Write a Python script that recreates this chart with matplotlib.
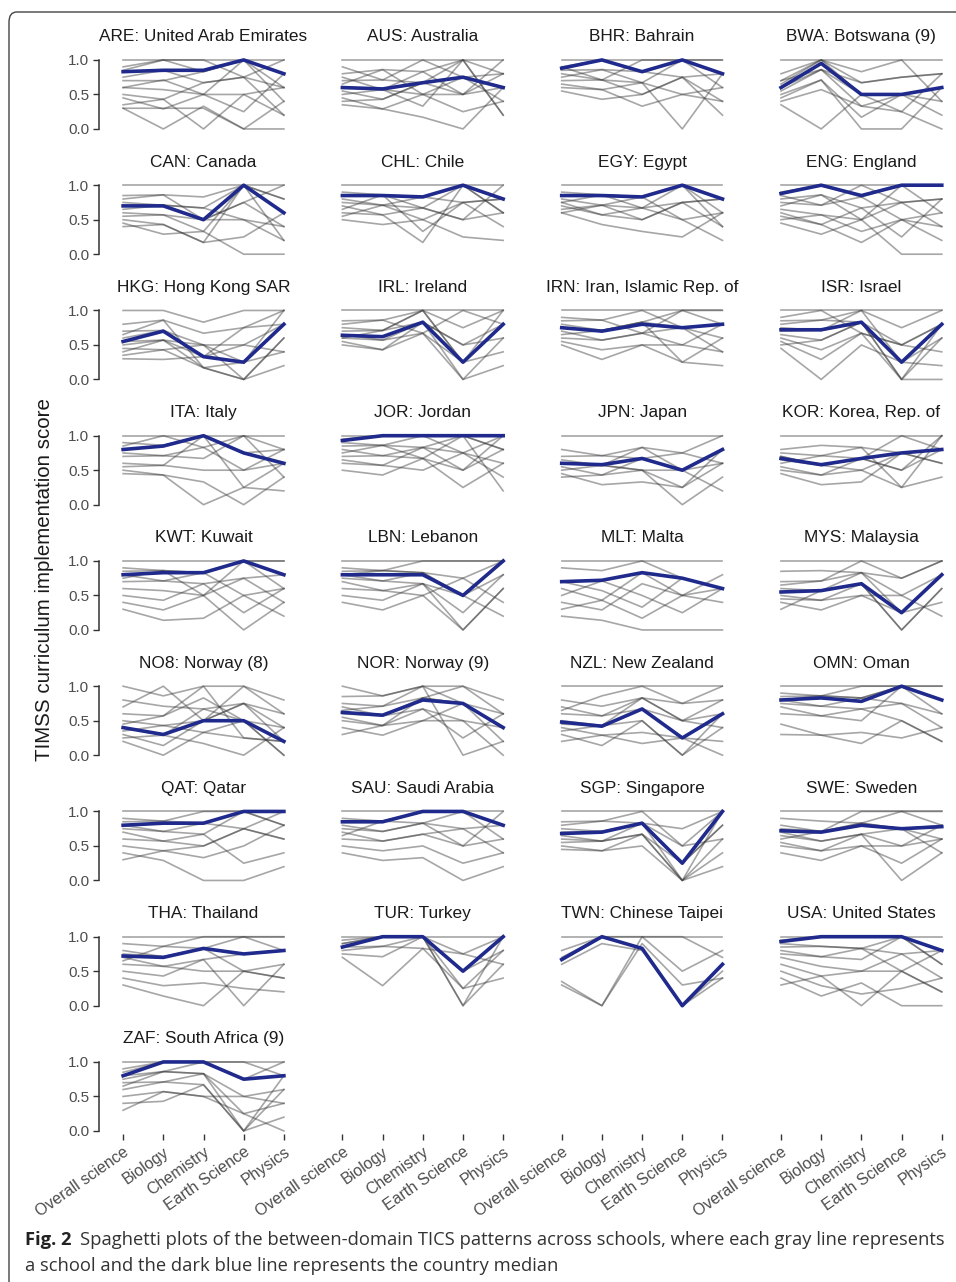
import matplotlib.pyplot as plt
from matplotlib.patches import FancyBboxPatch

# domains on the x axis
domains = ["Overall science", "Biology", "Chemistry", "Earth Science", "Physics"]

titles = [
    "ARE: United Arab Emirates", "AUS: Australia", "BHR: Bahrain", "BWA: Botswana (9)",
    "CAN: Canada", "CHL: Chile", "EGY: Egypt", "ENG: England",
    "HKG: Hong Kong SAR", "IRL: Ireland", "IRN: Iran, Islamic Rep. of", "ISR: Israel",
    "ITA: Italy", "JOR: Jordan", "JPN: Japan", "KOR: Korea, Rep. of",
    "KWT: Kuwait", "LBN: Lebanon", "MLT: Malta", "MYS: Malaysia",
    "NO8: Norway (8)", "NOR: Norway (9)", "NZL: New Zealand", "OMN: Oman",
    "QAT: Qatar", "SAU: Saudi Arabia", "SGP: Singapore", "SWE: Sweden",
    "THA: Thailand", "TUR: Turkey", "TWN: Chinese Taipei", "USA: United States",
    "ZAF: South Africa (9)",
]

# country medians (dark blue lines)
medians = [
    [0.83, 0.85, 0.85, 1.0, 0.8], [0.6, 0.58, 0.67, 0.75, 0.6], [0.88, 1.0, 0.83, 1.0, 0.8], [0.6, 0.95, 0.5, 0.5, 0.6],
    [0.7, 0.7, 0.5, 1.0, 0.6], [0.85, 0.85, 0.83, 1.0, 0.8], [0.85, 0.85, 0.83, 1.0, 0.8], [0.88, 1.0, 0.85, 1.0, 1.0],
    [0.55, 0.7, 0.33, 0.25, 0.8], [0.64, 0.62, 0.83, 0.25, 0.8], [0.75, 0.7, 0.8, 0.75, 0.8], [0.72, 0.72, 0.83, 0.25, 0.8],
    [0.8, 0.85, 1.0, 0.75, 0.6], [0.93, 1.0, 1.0, 1.0, 1.0], [0.6, 0.58, 0.67, 0.5, 0.8], [0.67, 0.58, 0.67, 0.75, 0.8],
    [0.8, 0.83, 0.83, 1.0, 0.8], [0.8, 0.8, 0.8, 0.5, 1.0], [0.7, 0.72, 0.83, 0.75, 0.6], [0.55, 0.57, 0.67, 0.25, 0.8],
    [0.4, 0.3, 0.5, 0.5, 0.2], [0.62, 0.58, 0.8, 0.75, 0.4], [0.48, 0.42, 0.67, 0.25, 0.6], [0.8, 0.83, 0.78, 1.0, 0.8],
    [0.8, 0.83, 0.83, 1.0, 1.0], [0.85, 0.85, 1.0, 1.0, 0.8], [0.68, 0.7, 0.83, 0.25, 1.0], [0.72, 0.7, 0.8, 0.75, 0.78],
    [0.72, 0.7, 0.83, 0.75, 0.8], [0.85, 1.0, 1.0, 0.5, 1.0], [0.67, 1.0, 0.83, 0.0, 0.6], [0.93, 1.0, 1.0, 1.0, 0.8],
    [0.8, 1.0, 1.0, 0.75, 0.8],
]

# school lines per country (gray), one school per ';'
schools = [
    "1 1 1 1 1; .9 1 .83 1 .8; .75 .85 .67 .75 .6; .7 .7 .83 1 .4; .6 .57 .5 .5 .6; .5 .43 .67 .75 .2; .45 .29 .5 .25 .8; .3 0 .33 0 .4; .35 .43 0 .5 .2; .85 1 1 .75 1; .6 .71 .5 1 .6; .3 .3 .3 0 0",
    "1 1 1 1 1; .8 .86 .83 1 .8; .7 .71 .67 .75 .6; .6 .57 .5 .75 .4; .55 .43 .67 .5 .6; .5 .57 .33 1 .2; .45 .29 .5 .25 .4; .35 .29 .17 0 .6; .9 .71 1 .75 .8; .65 .86 .5 .5 .8; .4 .43 .67 1 .2; .75 .57 .83 .5 1",
    "1 1 1 1 1; .9 1 .83 1 .8; .85 .86 .83 .75 .8; .8 .71 .67 1 .6; .7 .71 .5 .75 .4; .65 .57 .33 .5 .6; .6 .57 .67 0 .8; .75 .86 .67 .5 .4; .9 .71 1 1 1; .55 .43 .5 .75 .2",
    "1 1 1 1 1; .8 1 .67 .75 .8; .7 1 .5 .5 .6; .6 .86 .33 .5 .4; .55 .86 .5 .25 .8; .5 .71 0 0 .6; .45 .71 .17 .5 .2; .65 1 .83 1 .4; .4 .57 .33 .25 0; .7 .86 .67 .75 .8; .35 0 .5 .5 .6",
    "1 1 1 1 1; .85 .86 .83 1 .8; .75 .71 .67 1 .6; .7 .71 .5 .75 .4; .6 .57 .33 1 .8; .55 .57 .5 .5 .2; .5 .43 .17 .25 .6; .45 .29 .33 0 0; .8 .86 .5 .75 1; .65 .71 .67 .5 .4; .4 .43 .17 1 .2",
    "1 1 1 1 1; .9 .86 .83 1 .8; .85 .86 .67 1 .6; .8 .71 .83 .75 .8; .75 .71 .5 .75 .4; .7 .57 .67 .5 .6; .6 .57 .17 1 .6; .5 .43 .5 .25 .2; .65 .86 .33 .75 .8; .55 .71 .67 .5 1",
    "1 1 1 1 1; .9 .86 .83 1 .8; .85 .86 .83 1 .6; .8 .71 .67 .75 .8; .75 .86 .67 .5 .6; .7 .57 .5 .75 .4; .65 .71 .83 .5 .2; .6 .43 .33 .25 .6; .75 .57 .67 1 .4; .6 .71 .5 .75 .8",
    "1 1 1 1 1; .9 1 .83 1 1; .8 .86 .67 .75 .8; .75 .71 .83 .5 .6; .65 .57 .5 .75 .4; .55 .43 .67 .25 .8; .5 .57 .33 .5 .2; .45 .29 .5 0 0; .7 .86 .5 1 .6; .85 .71 1 .75 .8; .6 .43 .17 .5 .4",
    "1 1 .83 1 1; .8 .86 .67 .75 1; .7 .71 .5 .5 .8; .6 .71 .33 .25 .8; .55 .57 .17 0 .6; .5 .57 .33 .5 .4; .45 .43 .5 .25 1; .35 .43 .17 0 .6; .3 .29 .33 .75 .8; .65 .86 .17 .25 .4; .4 .57 .5 0 .2",
    "1 1 1 1 1; .85 .86 1 .75 1; .75 .71 .83 .5 .8; .7 .71 1 .25 .8; .65 .57 .83 0 .6; .6 .57 .67 .25 .4; .55 .43 .83 .5 .6; .5 .43 .67 0 .2; .8 .86 .67 1 .8; .6 .71 1 .25 1",
    "1 1 1 1 1; .9 .86 1 .75 .8; .8 .71 .83 1 .8; .75 .71 .83 .75 .6; .7 .57 .67 .5 .8; .6 .57 .67 .75 .4; .55 .43 .5 .25 .6; .5 .29 .5 .5 .4; .65 .71 .83 .25 .2; .85 .86 .67 1 1",
    "1 1 1 1 1; .85 .86 .83 .5 .8; .75 .71 .83 .25 .8; .7 .71 1 .25 .6; .65 .57 .83 0 .8; .6 .43 .67 .5 .4; .55 .29 .67 0 .6; .45 0 .5 .25 .2; .8 .86 1 .75 1; .5 .57 .83 0 0; .9 1 .67 .5 .8",
    "1 1 1 1 1; .9 .86 1 .75 .8; .8 .86 1 .75 .6; .75 .71 .83 .5 .6; .7 .71 .67 1 .4; .6 .57 .5 .5 .8; .55 .57 1 .25 .2; .5 .43 .33 0 .4; .45 .43 0 .25 .6; .85 1 .83 1 .8",
    "1 1 1 1 1; .95 1 1 1 .8; .9 .86 1 .75 1; .85 .86 .83 1 .8; .8 .71 .83 .75 .6; .7 .71 .67 .5 .8; .6 .57 .5 .75 .4; .5 .43 .67 .25 .6; .75 .86 .67 1 .2; .65 .57 .83 .5 1",
    "1 1 1 1 1; .8 .71 .83 .75 1; .7 .71 .67 .5 .8; .6 .57 .67 .5 .8; .6 .57 .5 .25 .6; .55 .43 .67 .75 .6; .5 .57 .5 0 .4; .45 .29 .33 .25 .8; .65 .57 .83 .5 .6; .4 .43 .5 .5 .2",
    "1 1 1 1 1; .8 .86 .83 .75 .8; .75 .71 .67 1 .8; .7 .57 .67 .75 .8; .65 .57 .5 .75 .6; .55 .43 .67 .5 .8; .5 .43 .5 .25 1; .45 .29 .33 .75 .6; .6 .71 .83 .25 .4; .7 .57 .67 .5 1",
    "1 1 1 1 1; .9 .86 .83 1 .8; .85 .86 .83 1 .6; .8 .71 .67 .75 .8; .7 .71 .83 .5 .6; .6 .57 .5 .75 .4; .5 .43 .67 .25 .6; .4 .29 .5 0 .4; .3 .14 .17 .5 .2; .75 .86 .5 1 1",
    "1 1 1 1 1; .9 .86 .83 .75 1; .85 .86 .83 .5 1; .8 .71 .83 .5 .8; .75 .71 .67 .25 .8; .7 .57 .67 0 .6; .6 .57 .5 .75 .4; .5 .43 .67 .5 .2; .4 .29 .5 0 .6; .8 .86 1 1 1",
    "1 1 1 1 1; .9 .86 1 .75 .6; .7 .57 .33 .75 .6; .5 .71 .5 .25 .6; .4 .29 .67 .5 .8; .2 .14 0 0 0; .6 .43 .83 .5 .4; .3 .43 .17 .5 .6",
    "1 1 1 1 1; .85 .86 .83 .75 1; .7 .71 .83 .5 .8; .6 .57 .67 .25 .8; .55 .57 .67 0 .6; .5 .43 .5 .25 .4; .45 .43 .67 0 .6; .4 .29 .5 .5 .2; .3 .57 .83 .25 .8; .65 .71 1 .75 1",
    "1 .86 1 1 .8; .8 .71 .67 .75 .6; .6 .57 .83 .5 .4; .5 .43 .5 .75 .2; .4 .29 .67 .5 0; .35 .43 .33 .25 .2; .3 .14 .5 .75 .4; .2 0 .33 .5 0; .45 .57 1 .25 .2; .25 .29 .17 0 .4; .7 1 .5 1 .6",
    "1 .86 1 1 .8; .85 .86 1 .75 .6; .75 .71 .83 1 .6; .7 .57 .83 .75 .4; .6 .57 .67 .5 .4; .55 .43 .83 .75 .2; .5 .43 .67 .25 .6; .4 .29 .5 .5 0; .65 .71 1 0 .2; .3 .43 .5 .75 .4",
    "1 1 1 1 1; .8 .71 .83 .75 .8; .7 .57 .83 .5 .6; .6 .57 .67 .25 .6; .5 .43 .67 .5 .4; .45 .43 .5 0 .6; .4 .29 .33 .25 .2; .3 .14 .5 0 .4; .2 .29 .17 .25 0; .65 .86 1 .75 1; .35 .43 .83 .5 .8",
    "1 1 1 1 1; .9 .86 .83 1 .8; .85 .86 .83 1 .8; .8 .71 .67 .75 .6; .75 .71 .83 .75 .4; .7 .57 .5 1 .6; .6 .57 .67 .5 .2; .45 .29 .33 .25 .4; .3 .29 .17 .5 .2; .8 .86 1 1 1",
    "1 1 1 1 1; .9 .86 1 1 1; .85 .86 .83 1 .8; .8 .71 .83 .75 1; .75 .71 .67 1 .8; .7 .57 .5 .75 .6; .6 .57 .67 .25 .4; .5 .43 .33 .5 .8; .4 .29 0 0 .2; .3 .43 .5 .75 .6",
    "1 1 1 1 1; .9 .86 1 1 .8; .85 .86 1 1 .8; .8 .71 .83 .75 .8; .75 .71 .83 1 .6; .7 .57 .67 .75 .4; .6 .57 .67 .5 .6; .5 .43 .5 .25 .4; .4 .29 .33 0 .2; .65 .86 .83 .5 1",
    "1 1 1 1 1; .85 .86 .83 .75 1; .75 .71 .83 .5 1; .7 .71 .83 .25 .8; .65 .57 .67 0 1; .6 .57 .83 0 .6; .5 .43 .67 .25 .8; .45 .43 .5 0 .4; .8 .86 1 .5 .6; .55 .57 .67 0 .2",
    "1 1 1 1 1; .9 .86 .83 1 .8; .8 .71 .83 .75 .8; .75 .71 .83 .75 .6; .7 .57 .67 .5 .8; .65 .57 .67 .75 .4; .55 .43 .5 .25 .6; .5 .43 .67 0 .4; .6 .71 1 1 1; .4 .29 .5 .5 .6",
    "1 1 1 1 1; .9 .86 1 1 .8; .8 .71 .83 .75 .8; .75 .71 .83 .5 .6; .7 .57 .67 .75 .8; .6 .57 .5 .5 .4; .5 .43 .67 0 .6; .4 .29 .33 .25 .2; .3 .14 0 .5 .4; .65 .86 .83 1 1",
    "1 1 1 1 1; .95 1 1 .75 1; .9 1 1 .5 1; .85 1 1 .25 .8; .8 .86 1 0 .6; .75 .71 1 .5 .8; .7 .29 .83 .25 .4; .9 1 1 0 1; .85 .86 .83 .75 .6",
    "1 1 1 1 1; .65 1 .83 0 .6; .7 1 .83 0 .5; .35 0 .9 .3 .4; .3 0 1 1 .7; .8 1 1 .5 .8; .6 .9 .8 0 .4",
    "1 1 1 1 1; .95 1 1 1 .8; .9 .86 .83 1 .6; .85 .86 .83 .75 .8; .8 .71 .67 1 .6; .7 .57 .5 .75 .4; .6 .43 .5 .5 .2; .5 .29 .17 .25 .4; .4 .14 .33 0 0; .75 .71 .83 .5 .8; .3 .43 0 .5 .2",
    "1 1 1 1 1; .9 1 1 .75 .8; .85 1 1 1 .8; .8 .86 .83 .5 .6; .75 .86 .83 .25 .4; .7 .71 .67 0 .2; .6 .71 .83 0 .6; .5 .57 .5 .25 0; .4 .43 .67 0 .8; .65 .86 1 .75 1; .3 .57 .5 .5 .4",
]

W, H = 956, 1282
plt.rcParams['font.family'] = ['Liberation Sans', 'DejaVu Sans']
fig = plt.figure(figsize=(W / 100, H / 100), dpi=100)

def px_axes(left, top, w, h):
    return fig.add_axes([left / W, 1 - (top + h) / H, w / W, h / H])

xs = list(range(1, 6))
col_step = 219.3
row_step = 125.25
pw, ph = 209, 75.9

for i, title in enumerate(titles):
    r, c = divmod(i, 4)
    ax = px_axes(99 + c * col_step, 56.5 + r * row_step, pw, ph)
    for s in schools[i].split(";"):
        vals = [float(v) for v in s.split()]
        ax.plot(xs, vals, color="#3a3a3a", alpha=0.45, lw=1.2)
    ax.plot(xs, medians[i], color="#1f2a8c", lw=2.6, solid_joinstyle="round")
    ax.set_xlim(0.4, 5.6)
    ax.set_ylim(-0.05, 1.05)
    for sp in ax.spines.values():
        sp.set_visible(False)
    ax.text(0.5, 1.26, title, transform=ax.transAxes, ha="center", va="center",
            fontsize=12.4, color="#1a1a1a")
    if c == 0:
        ax.spines["left"].set_visible(True)
        ax.spines["left"].set_bounds(0, 1)
        ax.spines["left"].set_linewidth(1.1)
        ax.spines["left"].set_color("#333333")
        ax.set_yticks([0, 0.5, 1.0])
        ax.set_yticklabels(["0.0", "0.5", "1.0"])
        ax.tick_params(axis="y", length=4, width=1.0, color="#333333",
                       labelsize=11, labelcolor="#4d4d4d", pad=3)
    else:
        ax.set_yticks([])
    ax.set_xticks([])

# x axis ticks along the bottom row for every column
for c in range(4):
    if c == 0:
        ax = fig.axes[32]
    else:
        ax = px_axes(99 + c * col_step, 56.5 + 8 * row_step, pw, ph)
        ax.set_xlim(0.4, 5.6)
        ax.set_ylim(-0.05, 1.05)
        ax.set_yticks([])
        for sp in ax.spines.values():
            sp.set_visible(False)
        ax.patch.set_visible(False)
    ax.set_xticks(xs)
    ax.set_xticklabels(domains, rotation=35, ha="right", rotation_mode="anchor")
    ax.tick_params(axis="x", length=4, width=1.0, color="#333333",
                   labelsize=11.5, labelcolor="#4d4d4d", pad=3)

fig.text(45 / W, 1 - 580 / H, "TIMSS curriculum implementation score", rotation=90,
         ha="center", va="center", fontsize=14.8, color="#1a1a1a")

# figure frame
frame = FancyBboxPatch((9 / W, -0.05), 1.2, 1 - 12 / H + 0.05,
                       boxstyle="round,pad=0,rounding_size=0.008",
                       transform=fig.transFigure, fill=False, edgecolor="#444444", lw=1.0)
fig.patches.append(frame)

# caption
cap_font = ['Open Sans', 'DejaVu Sans']
bold = fig.text(25 / W, 1 - 1240 / H, "Fig. 2", fontsize=13.2, fontweight="bold",
                family=cap_font, color="#222222", va="center")
fig.canvas.draw()
bb = bold.get_window_extent()
fig.text((bb.x1 + 9) / W, 1 - 1240 / H,
         "Spaghetti plots of the between-domain TICS patterns across schools, where each gray line represents",
         fontsize=13.2, family=cap_font, color="#333333", va="center")
fig.text(25 / W, 1 - 1266 / H, "a school and the dark blue line represents the country median",
         fontsize=13.2, family=cap_font, color="#333333", va="center")

fig.savefig("out.png", dpi=100)
